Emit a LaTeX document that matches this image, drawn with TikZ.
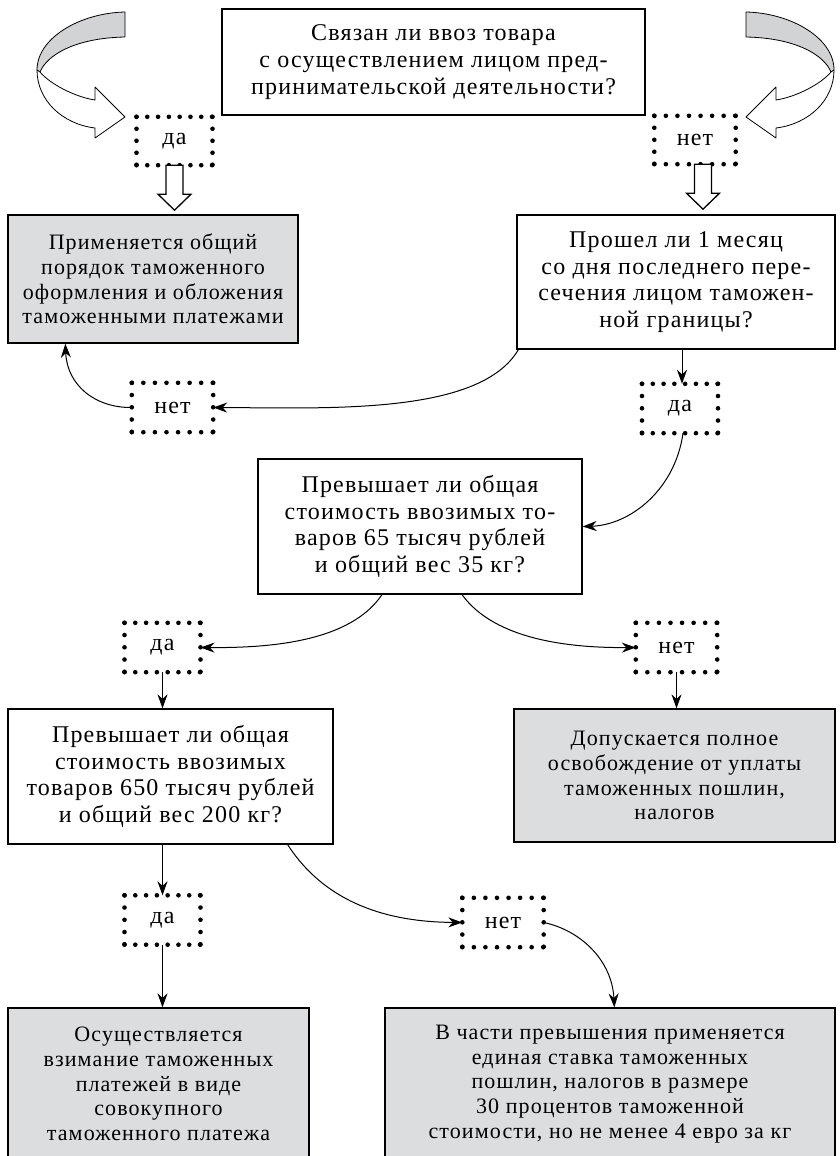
\documentclass[tikz,border=0pt]{standalone}
\usepackage{fontspec}
\setmainfont{Liberation Serif}[LetterSpace=5]
\usetikzlibrary{arrows.meta,calc}
\definecolor{boxgray}{HTML}{DCDDDE}
\definecolor{ribbongray}{HTML}{D2D3D4}
\tikzset{
  wbox/.style={draw, line width=1.3pt, align=center, inner sep=0pt, font=\fontsize{24}{26.7}\selectfont},
  gbox/.style={wbox, fill=boxgray, font=\fontsize{22}{24.8}\selectfont},
  dbox/.style={align=center, inner sep=0pt, minimum height=49pt, font=\fontsize{24}{26}\selectfont},
  dotfr/.style={line width=4.6pt, line cap=round},
  arr/.style={line width=1pt, -{Stealth[length=14pt,width=10pt]}},
  openarr/.style={draw, line width=1.3pt, fill=white, line join=miter},
  ribbon/.style={draw, line width=0.8pt, line join=round},
}
\newcommand{\dotframe}[3]{%
  \draw[dotfr, dash pattern=on 0pt off #2pt] (#1.north west) -- (#1.north east);
  \draw[dotfr, dash pattern=on 0pt off #2pt] (#1.south west) -- (#1.south east);
  \draw[dotfr, dash pattern=on 0pt off #3pt] (#1.north west) -- (#1.south west);
  \draw[dotfr, dash pattern=on 0pt off #3pt] (#1.north east) -- (#1.south east);}
\begin{document}
\begin{tikzpicture}[x=1pt,y=-1pt]
\useasboundingbox (0,0) rectangle (839,1156);
% boxes
\node[wbox, minimum width=423pt, minimum height=106pt] (top) at (433.5,62)
  {Связан ли ввоз товара\\с осуществлением лицом пред-\\принимательской деятельности?};
\node[gbox, minimum width=290pt, minimum height=128pt] (grayL) at (153,279)
  {Применяется общий\\порядок таможенного\\оформления и обложения\\таможенными платежами};
\node[wbox, minimum width=318pt, minimum height=134pt] (prosh) at (676,282)
  {Прошел ли 1 месяц\\со дня последнего пере-\\сечения лицом таможен-\\ной границы?};
\node[wbox, minimum width=324pt, minimum height=135pt] (q1) at (420,526.5)
  {Превышает ли общая\\стоимость ввозимых то-\\варов 65 тысяч рублей\\и общий вес 35 кг?};
\node[wbox, minimum width=325pt, minimum height=135pt] (q2) at (170.5,776.5)
  {Превышает ли общая\\стоимость ввозимых\\товаров 650 тысяч рублей\\и общий вес 200 кг?};
\node[gbox, minimum width=321pt, minimum height=133pt] (grayR) at (674.5,775.5)
  {Допускается полное\\освобождение от уплаты\\таможенных пошлин,\\налогов};
\node[gbox, minimum width=301pt, minimum height=152pt] (grayBL) at (158.5,1084)
  {Осуществляется\\взимание таможенных\\платежей в виде\\совокупного\\таможенного платежа};
\node[gbox, minimum width=450pt, minimum height=152pt] (grayBR) at (610,1084)
  {В части превышения применяется\\единая ставка таможенных\\пошлин, налогов в размере\\30 процентов таможенной\\стоимости, но не менее 4 евро за кг};
% dotted label boxes
\node[dbox, minimum width=75.6pt, minimum height=48pt] (da1) at (174.5,141) {да};
\node[dbox, minimum width=81pt, minimum height=48pt] (net1) at (695,140) {нет};
\node[dbox, minimum width=81pt] (net2) at (172.5,407.5) {нет};
\node[dbox, minimum width=75.6pt] (da2) at (680,408.5) {да};
\node[dbox, minimum width=75.6pt] (da3) at (162.5,647.5) {да};
\node[dbox, minimum width=81pt] (net3) at (676.5,647.5) {нет};
\node[dbox, minimum width=75.6pt] (da4) at (162.5,920) {да};
\node[dbox, minimum width=81pt] (net4) at (503,922.5) {нет};
\dotframe{da1}{10.79}{11.99}
\dotframe{net1}{11.56}{11.99}
\dotframe{net2}{11.56}{12.24}
\dotframe{da2}{10.79}{12.24}
\dotframe{da3}{10.79}{12.24}
\dotframe{net3}{11.56}{12.24}
\dotframe{da4}{10.79}{12.24}
\dotframe{net4}{11.56}{12.24}
% ribbons
\begin{scope}
  \draw[ribbon, fill=ribbongray] (125,12) .. controls (80,13) and (37,38) .. (37,70)
    -- (40,72) .. controls (47,55) and (75,38) .. (125,37) -- cycle;
  \draw[ribbon, fill=white] (40,72) .. controls (50,84) and (75,97) .. (95,100)
    -- (95,87) -- (125,117) -- (95,138) -- (95,128)
    .. controls (62,124) and (37,100) .. (37,70) -- cycle;
\end{scope}
\begin{scope}[xshift=871pt, xscale=-1]
  \draw[ribbon, fill=ribbongray] (125,12) .. controls (80,13) and (37,38) .. (37,70)
    -- (40,72) .. controls (47,55) and (75,38) .. (125,37) -- cycle;
  \draw[ribbon, fill=white] (40,72) .. controls (50,84) and (75,97) .. (95,100)
    -- (95,87) -- (125,117) -- (95,138) -- (95,128)
    .. controls (62,124) and (37,100) .. (37,70) -- cycle;
\end{scope}
% open block arrows
\draw[openarr] ($(da1.south)+(-8.5,0)$) -- ++(0,29) -- ++(-8,0) -- ++(16.5,16)
  -- ++(16.5,-16) -- ++(-8,0) -- ++(0,-29) -- cycle;
\draw[openarr] ($(net1.south)+(-0.5,0)$) -- ++(0,29) -- ++(-8,0) -- ++(16.5,16)
  -- ++(16.5,-16) -- ++(-8,0) -- ++(0,-29) -- cycle;
% connectors
\draw[arr] ($(prosh.south west)+(2,0)$) .. controls (480,415) and (330,408) .. (net2.east);
\draw[arr] (net2.west) .. controls (95,408) and (67,385) .. ($(grayL.south west)+(58,0)$);
\draw[arr] ($(prosh.south)+(6,0)$) -- ($(da2.north)+(2,0)$);
\draw[arr] ($(da2.south)+(3,0)$) .. controls (675,490) and (630,525) .. (q1.east);
\draw[arr] ($(q1.south)+(-38,0)$) .. controls (350,642) and (270,648) .. (da3.east);
\draw[arr] ($(q1.south)+(42,0)$) .. controls (495,640) and (570,648) .. (net3.west);
\draw[arr] (da3.south) -- (q2.north -| da3.south);
\draw[arr] (net3.south) -- (grayR.north -| net3.south);
\draw[arr] (q2.south -| da4.north) -- (da4.north);
\draw[arr] (da4.south) -- (grayBL.north -| da4.south);
\draw[arr] ($(q2.south east)+(-46,0)$) .. controls (330,910) and (400,922) .. (net4.west);
\draw[arr] (net4.east) .. controls (580,930) and (612,960) .. ($(grayBR.north west)+(230,0)$);
\end{tikzpicture}
\end{document}
